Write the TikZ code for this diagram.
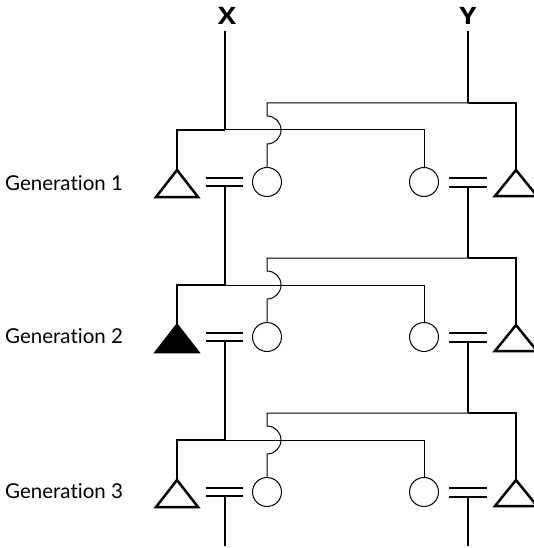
\documentclass[tikz,border=0pt]{standalone}
\usepackage{fontspec}
\setmainfont{Lato}[Ligatures=NoCommon]
\newfontfamily\labfont{Open Sans}
\begin{document}
\begin{tikzpicture}[x=1pt,y=-1pt,
  thickl/.style={line width=2.5pt,line join=miter},
  thinl/.style={line width=1pt},
  gen/.style={anchor=west,font=\fontsize{20.5}{23}\selectfont,inner sep=0pt},
  lab/.style={font=\labfont\bfseries\fontsize{24}{26}\selectfont,inner sep=0pt,xscale=1.15},
  ball/.style={circle,draw,line width=1pt,minimum size=29pt,inner sep=0pt}]
\useasboundingbox (0,0) rectangle (534,548);
\node[lab] (X) at (227,16) {X};
\node[lab] (Y) at (468,16) {Y};
\coordinate (xtop) at (225,31);
\coordinate (ytop) at (468,31);
\foreach \g/\dy/\fc in {1/0/white,2/155/black,3/310/white}{
  \begin{scope}[yshift=-\dy pt]
    \coordinate (xj\g) at (225,130);
    \coordinate (yj\g) at (468,103);
    \coordinate (xc\g) at (177,130);
    \coordinate (yc\g) at (516,103);
    \coordinate (ta\g) at (177,170);
    \coordinate (tb\g) at (516,170);
    \coordinate (xk\g) at (424,130);
    \coordinate (yk\g) at (267,103);
    \node[ball] (cl\g) at (267,182) {};
    \node[ball] (cr\g) at (424,182) {};
    \coordinate (eqx\g) at (225,186);
    \coordinate (eqy\g) at (468,187);
    % triangles
    \draw[thickl,fill=\fc] (ta\g) -- ++(-21,27) -- ++(42,0) -- cycle;
    \draw[thickl,fill=white] (tb\g) -- ++(-21,26) -- ++(42,0) -- cycle;
    % equals
    \draw[thickl] (206,178) -- (243,178) (206,186) -- (243,186);
    \draw[thickl] (449,178) -- (487,178) (449,187) -- (487,187);
    % connectors
    \draw[thickl] (xj\g) -- (xc\g) -- (ta\g);
    \draw[thickl] (yj\g) -- (yc\g) -- (tb\g);
    \draw[thinl] (xj\g) -- (xk\g) -- (cr\g.north);
    \draw[thinl] (yj\g) -- (yk\g) -- (267,116) arc[start angle=-90,end angle=90,radius=14] -- (cl\g.north);
  \end{scope}
}
\node[gen] (g1) at (5,183) {Generation 1};
\node[gen] (g2) at (5,336) {Generation 2};
\node[gen] (g3) at (5,491) {Generation 3};
\coordinate (xend) at (225,546);
\coordinate (yend) at (468,546);
\draw[thickl] (xtop) -- (xj1);
\draw[thickl] (ytop) -- (yj1);
\draw[thickl] (eqx1) -- (xj2);
\draw[thickl] (eqy1) -- (yj2);
\draw[thickl] (eqx2) -- (xj3);
\draw[thickl] (eqy2) -- (yj3);
\draw[thickl] (eqx3) -- (xend);
\draw[thickl] (eqy3) -- (yend);
\end{tikzpicture}
\end{document}
